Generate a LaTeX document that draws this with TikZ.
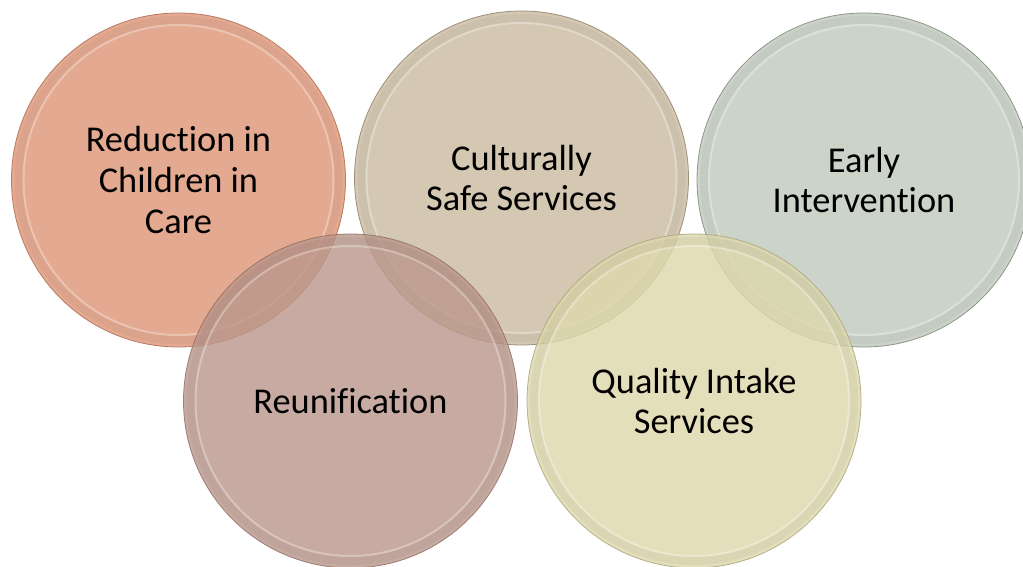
\documentclass[tikz,border=0pt]{standalone}
\usepackage{fontspec}
\setmainfont{Carlito}[Ligatures=NoCommon]
\definecolor{cA}{HTML}{E4AA91}
\definecolor{cAe}{HTML}{B97A62}
\definecolor{cB}{HTML}{D4C8B2}
\definecolor{cBe}{HTML}{9C907A}
\definecolor{cC}{HTML}{CCD4CA}
\definecolor{cCe}{HTML}{8E968C}
\definecolor{cD}{HTML}{BA978B}
\definecolor{cDe}{HTML}{8E6A5E}
\definecolor{cE}{HTML}{DDD8AB}
\definecolor{cEe}{HTML}{A8A278}
\tikzset{
  bubble/.style={circle, minimum size=334bp, inner sep=0pt, align=center,
    font=\fontsize{36.5}{41}\selectfont, text=black, line width=0.8bp},
  rim/.style={draw=white, draw opacity=0.3, line width=2bp},
  shade rim/.style={draw=black, draw opacity=0.04, line width=8bp}
}
\begin{document}
\begin{tikzpicture}[x=1bp,y=1bp]
\useasboundingbox[fill=white] (0,0) rectangle (1023,-567);
% top row
\node[bubble, fill=cA, draw=cAe] (c1) at (178.5,-180) {Reduction in\\Children in\\Care};
\draw[shade rim] (c1.center) circle (160);
\draw[rim] (c1.center) circle (155);
\node[bubble, fill=cB, draw=cBe] (c2) at (521.5,-178) {Culturally\\Safe Services};
\draw[shade rim] (c2.center) circle (160);
\draw[rim] (c2.center) circle (155);
\node[bubble, fill=cC, draw=cCe] (c3) at (864,-180) {Early\\Intervention};
\draw[shade rim] (c3.center) circle (160);
\draw[rim] (c3.center) circle (155);
% bottom row (translucent)
\node[bubble, fill=cD, fill opacity=0.8, text opacity=1, draw=cDe, draw opacity=0.8] (c4) at (350.5,-401) {Reunification};
\draw[shade rim] (c4.center) circle (160);
\draw[rim] (c4.center) circle (155);
\node[bubble, fill=cE, fill opacity=0.8, text opacity=1, draw=cEe, draw opacity=0.8] (c5) at (694,-401) {Quality Intake\\Services};
\draw[shade rim] (c5.center) circle (160);
\draw[rim] (c5.center) circle (155);
\end{tikzpicture}
\end{document}
